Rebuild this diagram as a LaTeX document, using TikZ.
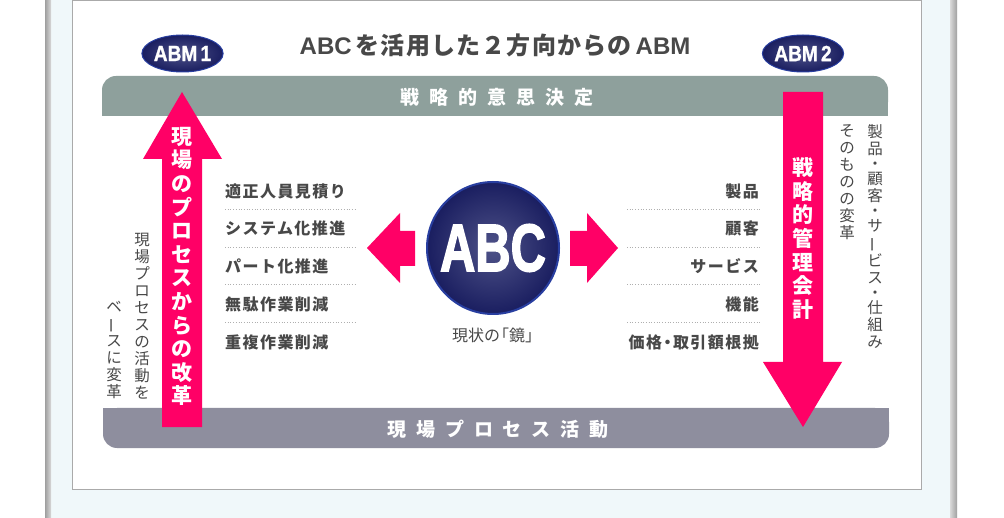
\documentclass[tikz,border=0pt]{standalone}
\usepackage{fontspec}
\usepackage{graphicx}
\setmainfont{Noto Sans CJK JP}
\newfontfamily\latinfont{Liberation Sans}
\usetikzlibrary{shapes.geometric}

\definecolor{pinkarrow}{RGB}{255,0,102}
\definecolor{topbar}{RGB}{142,160,156}
\definecolor{bottombar}{RGB}{142,142,158}
\definecolor{textgray}{RGB}{72,72,72}
\definecolor{panelblue}{RGB}{240,248,250}
\definecolor{framegray}{RGB}{170,170,170}
\definecolor{dotgray}{RGB}{175,175,175}
\definecolor{ballin}{RGB}{78,82,136}
\definecolor{ballout}{RGB}{26,30,96}
\definecolor{ballrim}{RGB}{40,62,160}

\newcommand\vbar{\rotatebox[origin=c]{90}{ー}}

\tikzset{
  ball/.style={shading=radial,inner color=ballin,outer color=ballout,draw=ballrim,line width=1pt},
  abmlabel/.style={ellipse,ball,minimum width=77pt,minimum height=37pt,inner sep=0pt,
    preaction={draw=white,line width=6pt},text=white,
    font=\latinfont\bfseries\fontsize{22}{22}\selectfont\addfontfeature{FakeBold=1.2}},
  bartext/.style={text=white,font=\bfseries\fontsize{19}{19}\selectfont\addfontfeature{LetterSpace=52}},
  vstack/.style={align=center,inner sep=0pt,text=textgray,font=\fontsize{15.5}{17}\selectfont},
  arrowtext/.style={align=center,inner sep=0pt,text=white,font=\bfseries\fontsize{21}{23.6}\selectfont},
  item/.style={inner sep=0pt,text=textgray,font=\bfseries\fontsize{16}{16}\selectfont\addfontfeature{LetterSpace=9}},
  sep/.style={draw=dotgray,dotted,line width=0.7pt}
}

\begin{document}
\begin{tikzpicture}[x=1pt,y=-1pt]

      \useasboundingbox (0,0) rectangle (1004,518);
      \fill[white] (0,0) rectangle (1004,518);
      \fill[panelblue] (50,0) rectangle (951,518);
      \shade[left color=gray!75,right color=gray!30] (45,0) rectangle (51,518);
      \shade[left color=gray!30,right color=gray!75] (950,0) rectangle (957,518);
      \draw[draw=framegray,fill=white,line width=1pt] (72,1) rectangle (921,489);

      \fill[topbar,rounded corners=14pt] (102,76) rectangle (888,116);
      \fill[topbar] (102,96) rectangle (888,116);
      \fill[bottombar,rounded corners=14pt] (103,408) rectangle (889,448);
      \fill[bottombar] (103,408) rectangle (889,428);

      \fill[pinkarrow] (162,427) -- (162,159) -- (143,159) -- (182,92) -- (222,159) -- (202,159) -- (202,427) -- cycle;
      \fill[pinkarrow] (783,92) -- (823,92) -- (823,362) -- (842,362) -- (803,427) -- (763,362) -- (783,362) -- cycle;
      \fill[pinkarrow] (415,231) -- (400,231) -- (400,213) -- (367,248) -- (400,283) -- (400,266) -- (415,266) -- cycle;
      \fill[pinkarrow] (570,231) -- (587,231) -- (587,213) -- (618,248) -- (587,283) -- (587,266) -- (570,266) -- cycle;

      \node[text=textgray,font=\bfseries\fontsize{24}{24}\selectfont\addfontfeature{LetterSpace=5}] (title) at (495,45)
        {{\latinfont\bfseries ABC}\,を活用した２方向からの\,{\latinfont\bfseries ABM}};

      \node[abmlabel] (abm1) at (182.5,53.5) {\scalebox{0.87}[1]{ABM\,1}};
      \node[abmlabel] (abm2) at (803,53.5) {\scalebox{0.87}[1]{ABM\,2}};

      \node[bartext] (strategy) at (497,97) {戦略的意思決定};
      \node[bartext] (process) at (498,429) {現場プロセス活動};

      \node[arrowtext] (kaikaku) at (182,266.5) {現\\場\\の\\プ\\ロ\\セ\\ス\\か\\ら\\の\\改\\革};
      \node[arrowtext] (kanri) at (803,238.5) {戦\\略\\的\\管\\理\\会\\計};

      \node[vstack,anchor=south] (leftcol1) at (142,399) {現\\場\\プ\\ロ\\セ\\ス\\の\\活\\動\\を};
      \node[vstack,anchor=south] (leftcol2) at (114,399) {ベ\\\vbar\\ス\\に\\変\\革};
      \node[vstack,anchor=north] (rightcol1) at (875,124) {製\\品\\[-2pt]・\\[-2pt]顧\\客\\[-2pt]・\\[-2pt]サ\\\vbar\\ビ\\ス\\[-2pt]・\\[-2pt]仕\\組\\み};
      \node[vstack,anchor=north] (rightcol2) at (847,124) {そ\\の\\も\\の\\の\\変\\革};

      \node[circle,ball,line width=2pt,minimum size=132pt,inner sep=0pt] (abc) at (493,248)
        {\scalebox{0.73}[1]{\textcolor{white}{\latinfont\bfseries\fontsize{67}{67}\selectfont\addfontfeature{FakeBold=2.5}ABC}}};
      \node[text=textgray,font=\fontsize{16}{16}\selectfont] (mirror) at (493,335) {現状の\kern-0.45em「鏡」\kern-0.45em};

      \begin{scope}[every node/.style={item,anchor=west}]
        \node (l1) at (225,191) {適正人員見積り};
        \node (l2) at (225,228) {システム化推進};
        \node (l3) at (225,266) {パート化推進};
        \node (l4) at (225,304) {無駄作業削減};
        \node (l5) at (225,342) {重複作業削減};
      \end{scope}

      \begin{scope}[every node/.style={item,anchor=east}]
        \node (r1) at (759,191) {製品};
        \node (r2) at (759,228) {顧客};
        \node (r3) at (759,266) {サービス};
        \node (r4) at (759,304) {機能};
        \node (r5) at (759,342) {価格\kern-2.5pt・\kern-2.5pt取引額根拠};
      \end{scope}

      \draw[sep] (225,209) -- (357,209);
      \draw[sep] (225,247) -- (357,247);
      \draw[sep] (225,284) -- (357,284);
      \draw[sep] (225,322) -- (357,322);
      \draw[sep] (627,209) -- (761,209);
      \draw[sep] (627,247) -- (761,247);
      \draw[sep] (627,284) -- (761,284);
      \draw[sep] (627,322) -- (761,322);

    \end{tikzpicture}
\end{document}
